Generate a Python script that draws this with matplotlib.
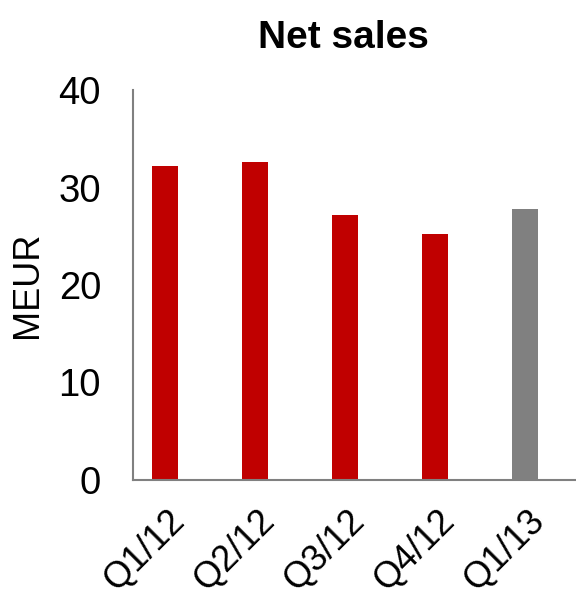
import numpy as np
import matplotlib
matplotlib.use("Agg")
from matplotlib import pyplot as plt
import matplotlib.transforms as mtransforms

plt.rcParams['font.family'] = ['Liberation Sans', 'DejaVu Sans']

# data
quarters = ['Q1/12', 'Q2/12', 'Q3/12', 'Q4/12', 'Q1/13']
net_sales = [32.2, 32.6, 27.2, 25.2, 27.8]
bar_colors = ['#C00000', '#C00000', '#C00000', '#C00000', '#808080']

fig = plt.figure(figsize=(5.76, 5.93), dpi=100)
ax = fig.add_axes([0.231, 0.1906, 0.769, 0.6576])

x = np.arange(len(quarters))
ax.bar(x, net_sales, width=0.29, color=bar_colors)

ax.set_xlim(-0.356, 4.567)
ax.set_ylim(0, 40)
ax.set_yticks([0, 10, 20, 30, 40])
ax.tick_params(axis='both', length=0)
ax.tick_params(axis='y', labelsize=27.5, pad=23)
ax.tick_params(axis='x', labelsize=26)

ax.set_xticks(x)
ax.set_xticklabels(quarters, rotation=45, ha='right', rotation_mode='anchor')
# shift the slanted labels so they sit like the original
offset = mtransforms.ScaledTranslation(0.02, -0.18, fig.dpi_scale_trans)
for lab in ax.get_xticklabels():
    lab.set_transform(lab.get_transform() + offset)

for side in ['top', 'right']:
    ax.spines[side].set_visible(False)
for side in ['left', 'bottom']:
    ax.spines[side].set_color('#808080')
    ax.spines[side].set_linewidth(1.5)

ax.set_ylabel('MEUR', fontsize=26, labelpad=10)
ax.set_title('Net sales', fontsize=28, fontweight='bold', x=0.476, pad=30)

fig.savefig('out.png', dpi=100)
